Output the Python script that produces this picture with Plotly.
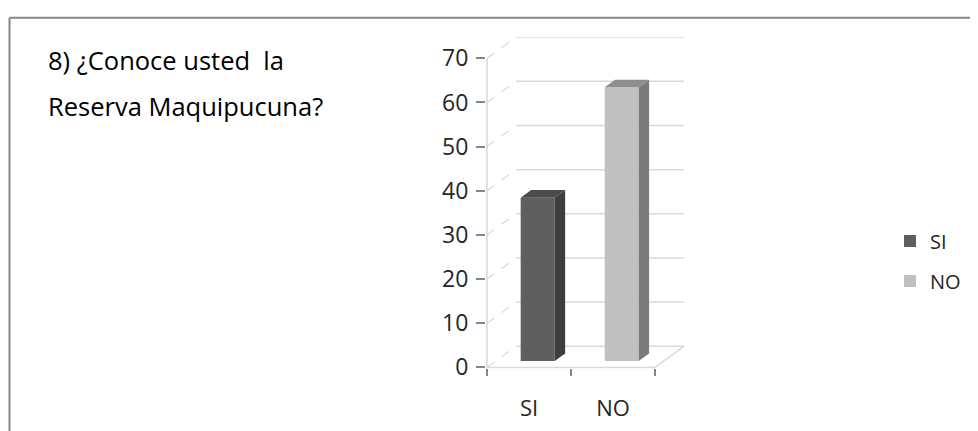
import plotly.graph_objects as go

# ---------------- data ----------------
categories = ["SI", "NO"]
values = [37, 62]
y_ticks = [0, 10, 20, 30, 40, 50, 60, 70]
title_lines = ["8) ¿Conoce usted\u00a0 la", "Reserva Maquipucuna?"]

# ---------------- style ----------------
front_colors = ["#5f5f5f", "#c0c0c0"]
side_colors = ["#3e3e3e", "#7b7b7b"]
top_colors = ["#4b4b4b", "#8e8e8e"]
grid_col = "#d9d9d9"
tick_col = "#868686"
text_col = "#262626"
FONT = "Open Sans"

W, H = 978, 446
OFF = 8          # page body margin of the exported html
YS = 1 / 0.963   # vertical correction of the capture


def xp(px):
    return (px - OFF) / W


def yp(py):
    return 1 - (py * YS - OFF) / H


DX = 0.345      # depth shift (category units)
DY = 4.78       # depth shift (value units)
BAR_W = 0.405
D_FRONT = 0.30
D_BACK = 0.66
YMAX = y_ticks[-1]
x_lo, x_hi = -0.5, len(categories) - 0.5
PADX, PADY = 0.012, 0.25

fig = go.Figure()

# bars: front faces + side + top faces
for i, (cat, v) in enumerate(zip(categories, values)):
    cx = i + D_FRONT * DX
    base = D_FRONT * DY
    ddx = (D_BACK - D_FRONT) * DX
    ddy = (D_BACK - D_FRONT) * DY
    l, r = cx - BAR_W / 2, cx + BAR_W / 2
    fig.add_trace(go.Bar(
        x=[cx], y=[v], base=[base], width=BAR_W, name=cat,
        marker=dict(color=front_colors[i], line=dict(width=0)),
        legendgroup=cat, hoverinfo="skip"))
    fig.add_trace(go.Scatter(
        x=[r, r + ddx, r + ddx, r, r],
        y=[base, base + ddy, base + v + ddy, base + v, base],
        mode="lines", fill="toself", fillcolor=side_colors[i],
        line=dict(width=0, color=side_colors[i]), showlegend=False,
        hoverinfo="skip"))
    fig.add_trace(go.Scatter(
        x=[l, r, r + ddx, l + ddx, l],
        y=[base + v, base + v, base + v + ddy, base + v + ddy, base + v],
        mode="lines", fill="toself", fillcolor=top_colors[i],
        line=dict(width=0, color=top_colors[i]), showlegend=False,
        hoverinfo="skip"))

shapes = []
# back wall gridlines + side wall diagonals
for t in y_ticks:
    shapes.append(dict(type="line", xref="x", yref="y", layer="below",
                       x0=x_lo + DX, x1=x_hi + DX, y0=t + DY, y1=t + DY,
                       line=dict(color=grid_col, width=1.5)))
    shapes.append(dict(type="line", xref="x", yref="y", layer="below",
                       x0=x_lo, x1=x_lo + DX, y0=t, y1=t + DY,
                       line=dict(color=grid_col, width=1.2, dash="dash")))
# front axis line, floor front edge, floor right edge
shapes.append(dict(type="line", xref="x", yref="y", layer="below",
                   x0=x_lo, x1=x_lo, y0=0, y1=YMAX,
                   line=dict(color=grid_col, width=1.5)))
shapes.append(dict(type="line", xref="x", yref="y", layer="below",
                   x0=x_lo, x1=x_hi, y0=0, y1=0,
                   line=dict(color=grid_col, width=1.5)))
shapes.append(dict(type="line", xref="x", yref="y", layer="below",
                   x0=x_hi, x1=x_hi + DX, y0=0, y1=DY,
                   line=dict(color=grid_col, width=1.5)))
# outer frame (top and left edges)
shapes.append(dict(type="line", xref="paper", yref="paper",
                   x0=xp(9.5), x1=1.0, y0=yp(17.5), y1=yp(17.5),
                   line=dict(color="#868686", width=2)))
shapes.append(dict(type="line", xref="paper", yref="paper",
                   x0=xp(9.5), x1=xp(9.5), y0=0, y1=yp(17.5),
                   line=dict(color="#868686", width=2)))

annotations = []
for k, line in enumerate(title_lines):
    annotations.append(dict(
        text=line, xref="paper", yref="paper", x=xp(46), y=yp(59.5 + 45.5 * k),
        xanchor="left", yanchor="middle", showarrow=False,
        font=dict(family=FONT, size=25.5, color="#000000")))

x_dom = [xp(487 - PADX * 84), xp(655 + DX * 84)]
y_dom = [yp(365 + PADY * 4.39), yp(57.7 - DY * 4.39)]

fig.update_layout(
    width=W, height=H,
    margin=dict(l=0, r=0, t=0, b=0),
    paper_bgcolor="white", plot_bgcolor="rgba(0,0,0,0)",
    font=dict(family=FONT, color=text_col),
    shapes=shapes, annotations=annotations,
    barmode="overlay",
    showlegend=True,
    legend=dict(x=xp(890), y=yp(220), xanchor="left", yanchor="top",
                font=dict(family=FONT, size=20, color=text_col),
                traceorder="grouped", tracegroupgap=11,
                bgcolor="rgba(0,0,0,0)"),
    xaxis=dict(domain=x_dom, range=[x_lo - PADX, x_hi + DX],
               tickvals=[x_lo + k for k in range(len(categories) + 1)],
               ticktext=["" for _ in range(len(categories) + 1)],
               ticks="outside", ticklen=7, tickwidth=2, tickcolor=tick_col,
               showgrid=False, zeroline=False, showline=False, fixedrange=True),
    xaxis2=dict(overlaying="x", side="bottom", range=[x_lo - PADX, x_hi + DX],
                tickvals=list(range(len(categories))), ticktext=categories,
                ticks="", ticklabelstandoff=25,
                tickfont=dict(family=FONT, size=22, color=text_col),
                showgrid=False, zeroline=False, showline=False, anchor="y"),
    yaxis=dict(domain=y_dom, range=[-PADY, YMAX + DY],
               tickvals=y_ticks, ticks="outside", ticklen=9, tickwidth=2,
               tickcolor=tick_col, ticklabelstandoff=3,
               tickfont=dict(family=FONT, size=23, color=text_col),
               showgrid=False, zeroline=False, showline=False, fixedrange=True),
)

# invisible trace to activate the label axis
fig.add_trace(go.Scatter(x=[0], y=[0], xaxis="x2", yaxis="y", mode="markers",
                         marker=dict(opacity=0), showlegend=False, hoverinfo="skip"))

fig.write_html("out.html")
